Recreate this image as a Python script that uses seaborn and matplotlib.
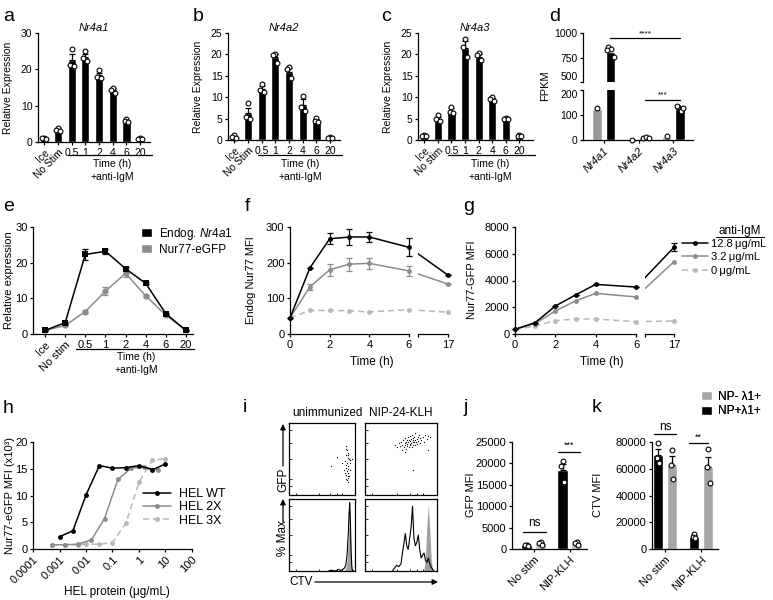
import matplotlib
matplotlib.use("Agg")
import matplotlib.pyplot as plt
import numpy as np
import pandas as pd
import seaborn as sns
from matplotlib.lines import Line2D
from matplotlib.patches import Patch

sns.set_style("ticks")
plt.rcParams["font.family"] = ["Liberation Sans", "DejaVu Sans"]
plt.rcParams["font.size"] = 7
plt.rcParams["text.color"] = "black"
plt.rcParams["axes.edgecolor"] = "black"
plt.rcParams["axes.linewidth"] = 0.9
plt.rcParams["xtick.color"] = "black"
plt.rcParams["ytick.color"] = "black"
plt.rcParams["xtick.major.width"] = 0.9
plt.rcParams["ytick.major.width"] = 0.9
plt.rcParams["xtick.major.size"] = 2.5
plt.rcParams["ytick.major.size"] = 2.5
plt.rcParams["xtick.major.pad"] = 1.5
plt.rcParams["ytick.major.pad"] = 1.5
plt.rcParams["xtick.labelsize"] = 8
plt.rcParams["ytick.labelsize"] = 8
plt.rcParams["mathtext.fontset"] = "custom"
plt.rcParams["mathtext.it"] = "Liberation Sans:italic"
plt.rcParams["mathtext.rm"] = "Liberation Sans"

GRAY = "#8c8c8c"
LIGHT = "#b8b8b8"

# ---------------- data ----------------
# a-c: qPCR time courses
time_labels = ["Ice", "No Stim", "0.5", "1", "2", "4", "6", "20"]
nr4a1_mean = [1.0, 3.3, 22.5, 23.4, 18.4, 14.3, 5.9, 1.0]
nr4a1_sem = [0.1, 0.3, 1.6, 0.9, 0.7, 0.5, 0.2, 0.1]
nr4a1_pts = [[1.1, 1.0, 0.9], [3.8, 3.2, 2.9], [25.6, 21.1, 20.9], [25.0, 23.0, 22.3],
             [19.8, 17.8, 17.6], [15.0, 14.2, 13.6], [6.2, 5.9, 5.6], [1.2, 0.9, 0.9]]
nr4a2_mean = [0.8, 6.3, 12.0, 19.3, 16.0, 8.2, 4.6, 0.6]
nr4a2_sem = [0.2, 1.1, 0.6, 0.7, 0.9, 1.3, 0.3, 0.1]
nr4a2_pts = [[1.1, 0.7, 0.5], [8.6, 5.3, 5.0], [13.1, 11.6, 11.3], [20.2, 19.8, 18.0],
             [17.0, 16.6, 14.5], [10.2, 7.7, 6.8], [5.2, 4.4, 4.3], [0.7, 0.5, 0.5]]
nr4a3_labels = ["Ice", "No stim", "0.5", "1", "2", "4", "6", "20"]
nr4a3_mean = [1.0, 5.0, 6.8, 21.5, 19.5, 9.6, 4.9, 1.0]
nr4a3_sem = [0.1, 0.4, 0.6, 1.6, 0.5, 0.3, 0.1, 0.1]
nr4a3_pts = [[1.1, 1.0, 0.9], [5.8, 5.0, 4.4], [7.8, 6.6, 6.2], [23.5, 21.8, 19.5],
             [20.3, 19.8, 18.7], [10.0, 9.5, 9.2], [5.1, 4.8, 4.8], [1.2, 0.9, 0.9]]

# d: RNA-seq FPKM
genes = ["Nr4a1", "Nr4a2", "Nr4a3"]
conds = ["unstimulated", "2 h anti-IgM"]
fpkm_unstim = [124, 2, 14]
fpkm_stim = [810, 10, 124]
fpkm_unstim_pts = [[127], [2], [18]]
fpkm_stim_pts = [[860, 834, 760, 827], [10, 11, 10], [132, 118, 128, 136]]

# e: endogenous Nr4a1 vs reporter transcript
e_labels = ["Ice", "No stim", "0.5", "1", "2", "4", "6", "20"]
endog_mean = [1.0, 3.2, 22.3, 23.2, 18.3, 14.2, 5.7, 1.0]
endog_sem = [0.1, 0.3, 1.5, 0.7, 0.5, 0.3, 0.2, 0.1]
egfp_mean = [1.0, 2.4, 6.3, 12.0, 17.0, 10.7, 5.3, 1.0]
egfp_sem = [0.1, 0.2, 0.3, 1.2, 0.9, 0.3, 0.3, 0.1]

# f, g: protein time courses
course_hours = [0, 1, 2, 3, 4, 6, 17]
f_high = [45, 185, 267, 272, 272, 243, 165]
f_high_err = [0, 0, 15, 22, 13, 25, 0]
f_mid = [45, 132, 180, 196, 198, 177, 140]
f_mid_err = [0, 8, 16, 18, 16, 13, 0]
f_none = [45, 66, 66, 65, 62, 68, 61]
g_high = [350, 850, 2090, 2920, 3710, 3510, 6480]
g_high_err = [0, 0, 0, 0, 0, 0, 300]
g_mid = [350, 780, 1720, 2470, 3040, 2770, 5410]
g_none = [350, 600, 1000, 1120, 1120, 920, 970]
dose_labels = ["12.8\u2009\u03bcg/mL", "3.2\u2009\u03bcg/mL", "0\u2009\u03bcg/mL"]

# h: HEL dose response
hel_wt_conc = [0.001, 0.0032, 0.01, 0.032, 0.1, 0.32, 1, 3.2, 10]
hel_wt = [2.3, 3.4, 10.1, 15.6, 15.1, 15.2, 15.6, 14.8, 15.9]
hel_2x_conc = [0.0005, 0.0016, 0.005, 0.016, 0.05, 0.16, 0.5, 1.6, 5]
hel_2x = [0.8, 0.8, 0.9, 1.7, 5.7, 13.0, 15.1, 15.3, 14.8]
hel_3x_conc = [0.0005, 0.0016, 0.005, 0.01, 0.032, 0.1, 0.32, 1, 3.2, 10]
hel_3x = [0.8, 0.8, 0.8, 0.9, 0.9, 1.2, 4.8, 12.5, 16.6, 16.9]
hel_labels = ["HEL WT", "HEL 2X", "HEL 3X"]

# i: flow cytometry (fraction of plot range)
unimm_dots = [(0.86, 0.68), (0.88, 0.62), (0.90, 0.58), (0.87, 0.55), (0.89, 0.52),
              (0.91, 0.50), (0.85, 0.47), (0.88, 0.45), (0.92, 0.44), (0.87, 0.41),
              (0.90, 0.40), (0.86, 0.38), (0.89, 0.36), (0.93, 0.35), (0.88, 0.33),
              (0.85, 0.31), (0.90, 0.30), (0.87, 0.28), (0.91, 0.26), (0.89, 0.24),
              (0.86, 0.22), (0.88, 0.21), (0.92, 0.48), (0.90, 0.55), (0.87, 0.64),
              (0.89, 0.27), (0.63, 0.40), (0.73, 0.53), (0.80, 0.45), (0.95, 0.50),
              (0.84, 0.35), (0.90, 0.18)]
nip_dots = [(0.42, 0.70), (0.45, 0.66), (0.47, 0.72), (0.48, 0.68), (0.50, 0.74),
            (0.51, 0.63), (0.52, 0.70), (0.53, 0.76), (0.54, 0.66), (0.55, 0.72),
            (0.55, 0.79), (0.56, 0.69), (0.57, 0.74), (0.57, 0.64), (0.58, 0.77),
            (0.58, 0.71), (0.59, 0.68), (0.60, 0.80), (0.60, 0.73), (0.61, 0.66),
            (0.61, 0.76), (0.62, 0.71), (0.62, 0.82), (0.63, 0.69), (0.63, 0.75),
            (0.64, 0.78), (0.64, 0.72), (0.65, 0.67), (0.65, 0.84), (0.66, 0.74),
            (0.66, 0.79), (0.67, 0.70), (0.67, 0.77), (0.68, 0.73), (0.68, 0.81),
            (0.69, 0.76), (0.70, 0.69), (0.70, 0.86), (0.71, 0.74), (0.72, 0.78),
            (0.72, 0.71), (0.73, 0.80), (0.74, 0.75), (0.75, 0.83), (0.76, 0.72),
            (0.77, 0.79), (0.78, 0.76), (0.80, 0.81), (0.82, 0.74), (0.84, 0.84),
            (0.86, 0.78), (0.88, 0.82), (0.90, 0.80), (0.66, 0.35), (0.87, 0.62),
            (0.55, 0.60)]
unimm_ctv = [0.60, 0.65, 0.70, 0.75, 0.78, 0.81, 0.84, 0.86, 0.88, 0.90, 0.91, 0.92,
             0.93, 0.94, 0.95, 0.96, 0.98]
unimm_hist = [0.0, 0.01, 0.0, 0.02, 0.01, 0.02, 0.04, 0.08, 0.22, 0.55, 0.80, 0.95,
              0.70, 0.30, 0.08, 0.01, 0.0]
unimm_ref = [0.0, 0.0, 0.0, 0.0, 0.0, 0.0, 0.01, 0.04, 0.15, 0.45, 0.70, 0.85,
             0.60, 0.25, 0.05, 0.0, 0.0]
nip_ctv = [0.38, 0.41, 0.44, 0.47, 0.50, 0.52, 0.54, 0.56, 0.58, 0.60, 0.62, 0.64,
           0.66, 0.68, 0.70, 0.72, 0.74, 0.76, 0.78, 0.80, 0.82, 0.84, 0.86, 0.88,
           0.90, 0.92, 0.94, 0.96]
nip_hist = [0.0, 0.04, 0.08, 0.06, 0.10, 0.25, 0.38, 0.52, 0.35, 0.30, 0.45, 0.60,
            0.90, 0.45, 0.35, 0.40, 0.50, 0.30, 0.18, 0.22, 0.25, 0.15, 0.12, 0.18,
            0.10, 0.05, 0.02, 0.0]
nip_ref = [0.0, 0.0, 0.0, 0.0, 0.0, 0.0, 0.0, 0.0, 0.0, 0.0, 0.0, 0.0,
           0.0, 0.0, 0.0, 0.0, 0.0, 0.0, 0.0, 0.0, 0.02, 0.20, 0.65, 0.92,
           0.55, 0.15, 0.02, 0.0]

# j, k: bar charts of NP+ / NP- cells
jk_groups = ["No stim", "NIP-KLH"]
cell_types = ["NP+\u03bb1+", "NP- \u03bb1+"]
gfp_pos = [900, 18500]
gfp_pos_sem = [100, 1400]
gfp_pos_pts = [[1050, 850, 700], [20600, 19300, 15600]]
gfp_neg = [1300, 1300]
gfp_neg_sem = [150, 150]
gfp_neg_pts = [[1600, 1300, 1000], [1600, 1300, 1000]]
ctv_pos = [70500, 9300]
ctv_pos_sem = [4500, 900]
ctv_pos_pts = [[79000, 68000, 64500], [11000, 9000, 8000]]
ctv_neg = [63000, 61500]
ctv_neg_sem = [6500, 7000]
ctv_neg_pts = [[74000, 63000, 52000], [74500, 61000, 49500]]

# ---------------- figure ----------------
W, H = 773, 600
fig = plt.figure(figsize=(W / 100, H / 100), dpi=100)


def add_ax(l, t, r, b):
    return fig.add_axes([l / W, 1 - b / H, (r - l) / W, (b - t) / H])


def dots(ax, x, vals, offs=(0.0, -0.14, 0.14, 0.07)):
    xs = [x + offs[i] for i in range(len(vals))]
    ax.scatter(xs, vals, s=12, facecolor="white", edgecolor="black",
               linewidth=0.8, zorder=4, clip_on=False)


def rotate_labels(ax, n=None):
    labels = ax.get_xticklabels()
    for lbl in (labels if n is None else labels[:n]):
        lbl.set_rotation(45)
        lbl.set_ha("right")
        lbl.set_rotation_mode("anchor")


def qpcr_panel(ax, labels, means, sems, pts, ymax, step, xmax):
    sns.barplot(x=labels, y=means, color="black", width=0.6, saturation=1,
                errorbar=None, ax=ax)
    ax.errorbar(range(len(means)), means, yerr=[[0] * len(sems), sems], fmt="none",
                ecolor="black", elinewidth=0.9, capsize=2, capthick=0.9, zorder=3)
    for i, vals in enumerate(pts):
        dots(ax, i, vals)
    ax.set_xlim(-0.46, xmax)
    ax.set_ylim(0, ymax)
    ax.set_yticks(np.arange(0, ymax + 1, step))
    ax.set_xticks(range(len(labels)))
    ax.set_xticklabels(labels)
    ax.tick_params(labelsize=7.5)
    rotate_labels(ax, 2)
    sns.despine(ax=ax)


ax_a = add_ax(38, 33, 150, 142)
qpcr_panel(ax_a, time_labels, nr4a1_mean, nr4a1_sem, nr4a1_pts, 30, 10, 7.72)
ax_b = add_ax(228, 33, 340, 140)
qpcr_panel(ax_b, time_labels, nr4a2_mean, nr4a2_sem, nr4a2_pts, 25, 5, 7.72)
ax_c = add_ax(418, 33, 533, 140)
qpcr_panel(ax_c, nr4a3_labels, nr4a3_mean, nr4a3_sem, nr4a3_pts, 25, 5, 8.0)

# d: broken y axis
ax_du = add_ax(583, 33, 693, 82)
ax_dl = add_ax(583, 90, 693, 140)
df_d = pd.DataFrame({"gene": genes * 2,
                     "cond": [conds[0]] * 3 + [conds[1]] * 3,
                     "fpkm": fpkm_unstim + fpkm_stim})
for ax in (ax_du, ax_dl):
    sns.barplot(data=df_d, x="gene", y="fpkm", hue="cond", palette=["#999999", "black"],
                width=0.75, gap=0.3, saturation=1, errorbar=None, legend=False, ax=ax)
    for i in range(3):
        dots(ax, i - 0.1875, fpkm_unstim_pts[i])
        dots(ax, i + 0.1875, fpkm_stim_pts[i], offs=(-0.06, 0.03, 0.1, -0.1))
    ax.set(xlabel="", ylabel="", xlim=(-0.59, 2.56))
    ax.tick_params(labelsize=7.5)
    sns.despine(ax=ax)
for coll in ax_du.collections:
    coll.set_clip_on(True)
ax_du.set_ylim(500, 1000)
ax_du.set_yticks([500, 750, 1000])
ax_du.get_yticklabels()[0].set_va("bottom")
ax_du.spines["bottom"].set_visible(False)
ax_du.set_xticks([])
ax_dl.set_ylim(0, 200)
ax_dl.set_yticks([0, 100, 200])
ax_dl.get_yticklabels()[-1].set_va("top")
ax_dl.set_xticks(range(3))
ax_dl.set_xticklabels(genes, fontstyle="italic", fontsize=8)
rotate_labels(ax_dl)
ax_du.plot([0.1875, 2.1875], [949, 949], color="black", lw=0.9)
ax_du.text(1.19, 955, "****", ha="center", va="bottom", fontsize=6)
ax_dl.plot([1.1875, 2.1875], [160, 160], color="black", lw=0.9)
ax_dl.text(1.69, 166, "***", ha="center", va="bottom", fontsize=6)

# e
ax_e = add_ax(33, 227, 193, 334)
xs_e = np.arange(len(e_labels))
sns.lineplot(x=xs_e, y=egfp_mean, color=GRAY, marker="o", markersize=4.5, lw=1.1,
             markeredgewidth=0, ax=ax_e, clip_on=False, zorder=3)
ax_e.errorbar(xs_e, egfp_mean, yerr=egfp_sem, fmt="none", ecolor=GRAY, elinewidth=0.9,
              capsize=2.5, capthick=0.9, clip_on=False, zorder=3)
sns.lineplot(x=xs_e, y=endog_mean, color="black", marker="s", markersize=4.5, lw=1.1,
             markeredgewidth=0, ax=ax_e, clip_on=False, zorder=4)
ax_e.errorbar(xs_e, endog_mean, yerr=endog_sem, fmt="none", ecolor="black",
              elinewidth=0.9, capsize=2.5, capthick=0.9, clip_on=False, zorder=4)
ax_e.set_xlim(-0.6, 7.35)
ax_e.set_ylim(0, 30)
ax_e.set_yticks([0, 10, 20, 30])
ax_e.set_xticks(xs_e)
ax_e.set_xticklabels(e_labels)
rotate_labels(ax_e, 2)
sns.despine(ax=ax_e)


def course_panel(ax_l, ax_r, series, ymax, ystep, x_gap_left):
    for vals, errs, color, ls in series:
        sns.lineplot(x=course_hours[:6], y=vals[:6], color=color, lw=1.1,
                     marker="o", markersize=3.5, markeredgewidth=0, ax=ax_l,
                     clip_on=False)
        if ls == "--":
            ax_l.lines[-1].set_dashes((4, 2.5))
        ax_r.plot(course_hours[5:], vals[5:], color=color, lw=1.1,
                  ls=(0, (4, 2.5)) if ls == "--" else "-")
        ax_r.plot([course_hours[6]], [vals[6]], "o", color=color, markersize=3.5,
                  markeredgewidth=0, clip_on=False)
        if errs is not None:
            ax_l.errorbar(course_hours[:6], vals[:6], yerr=errs[:6], fmt="none",
                          ecolor=color, elinewidth=0.9, capsize=2.5, capthick=0.9,
                          clip_on=False)
            ax_r.errorbar([course_hours[6]], [vals[6]], yerr=[errs[6]], fmt="none",
                          ecolor=color, elinewidth=0.9, capsize=2.5, capthick=0.9,
                          clip_on=False)
    ax_l.set_xlim(0, 6)
    ax_l.set_xticks([0, 2, 4, 6])
    ax_l.set_ylim(0, ymax)
    ax_l.set_yticks(np.arange(0, ymax + 1, ystep))
    sns.despine(ax=ax_l)
    ax_r.set_xlim(x_gap_left, 17)
    ax_r.set_ylim(0, ymax)
    ax_r.set_xticks([x_gap_left, 17])
    ax_r.set_xticklabels(["", "17"])
    ax_r.set_yticks([])
    sns.despine(ax=ax_r, left=True)


ax_fl = add_ax(290, 227, 409, 334)
ax_fr = add_ax(418, 227, 448, 334)
course_panel(ax_fl, ax_fr, [(f_none, None, LIGHT, "--"), (f_mid, f_mid_err, GRAY, "-"),
                            (f_high, f_high_err, "black", "-")], 300, 100, 8.54)
ax_gl = add_ax(515, 227, 636, 334)
ax_gr = add_ax(645, 227, 674, 334)
course_panel(ax_gl, ax_gr, [(g_none, None, LIGHT, "--"), (g_mid, None, GRAY, "-"),
                            (g_high, g_high_err, "black", "-")], 8000, 2000, 8.6)

# h
ax_h = add_ax(33, 442, 192, 549)
for conc, vals, color, ls in [(hel_3x_conc, hel_3x, LIGHT, "--"),
                              (hel_2x_conc, hel_2x, GRAY, "-"),
                              (hel_wt_conc, hel_wt, "black", "-")]:
    sns.lineplot(x=conc, y=vals, color=color, lw=1.1, marker="o", markersize=3.5,
                 markeredgewidth=0, ax=ax_h, clip_on=False)
    if ls == "--":
        ax_h.lines[-1].set_dashes((4, 2.5))
ax_h.set_xscale("log")
ax_h.set_xlim(1e-4, 100)
ax_h.set_ylim(0, 20)
ax_h.set_yticks([0, 5, 10, 15, 20])
ax_h.set_xticks([1e-4, 1e-3, 1e-2, 1e-1, 1, 10, 100])
ax_h.set_xticklabels(["0.0001", "0.001", "0.01", "0.1", "1", "10", "100"])
ax_h.tick_params(axis="x", which="minor", length=1.5, width=0.7)
rotate_labels(ax_h)
sns.despine(ax=ax_h)

# i: flow panels
ax_i1 = add_ax(289, 423, 355, 495)
ax_i2 = add_ax(365, 423, 437, 495)
ax_i3 = add_ax(289, 499, 355, 571)
ax_i4 = add_ax(365, 499, 437, 571)
for ax, pts in [(ax_i1, unimm_dots), (ax_i2, nip_dots)]:
    arr = np.array(pts)
    ax.scatter(arr[:, 0], arr[:, 1], s=0.8, color="black", linewidths=0)
for ax, ctv, hist, ref in [(ax_i3, unimm_ctv, unimm_hist, unimm_ref),
                           (ax_i4, nip_ctv, nip_hist, nip_ref)]:
    ax.fill_between(ctv, ref, color="#a0a0a0", lw=0)
    sns.lineplot(x=ctv, y=hist, color="black", lw=0.8, ax=ax)
for ax in (ax_i1, ax_i2, ax_i3, ax_i4):
    ax.set_xlim(0, 1)
    ax.set_ylim(0, 1)
    ax.set_xticks([0.1, 0.45, 0.62, 0.72, 0.8])
    ax.set_yticks([0.12, 0.22, 0.5, 0.72, 0.9])
    ax.tick_params(direction="in", length=1.8, width=0.6, labelleft=False,
                   labelbottom=False)
    for sp in ax.spines.values():
        sp.set_visible(True)
        sp.set_linewidth(0.9)

# j, k
ax_j = add_ax(512, 442, 587, 549)
ax_k = add_ax(652, 442, 718, 549)
for ax, pos, pos_sem, pos_pts, neg, neg_sem, neg_pts, ymax, gray, xlim in [
        (ax_j, gfp_pos, gfp_pos_sem, gfp_pos_pts, gfp_neg, gfp_neg_sem, gfp_neg_pts,
         25000, "#c0c0c0", (-0.6, 1.48)),
        (ax_k, ctv_pos, ctv_pos_sem, ctv_pos_pts, ctv_neg, ctv_neg_sem, ctv_neg_pts,
         80000, "#a6a6a6", (-0.36, 1.47))]:
    df = pd.DataFrame({"grp": jk_groups * 2,
                       "cell": [cell_types[0]] * 2 + [cell_types[1]] * 2,
                       "val": pos + neg})
    sns.barplot(data=df, x="grp", y="val", hue="cell", palette=["black", gray],
                width=0.78, gap=0.25, saturation=1, errorbar=None, legend=False, ax=ax)
    for i in range(2):
        for dx, m, s, p in [(-0.195, pos, pos_sem, pos_pts), (0.195, neg, neg_sem, neg_pts)]:
            ax.errorbar([i + dx], [m[i]], yerr=[[0], [s[i]]], fmt="none", ecolor="black",
                        elinewidth=0.9, capsize=2, capthick=0.9, zorder=3)
            dots(ax, i + dx, p[i], offs=(0.0, -0.04, 0.04))
    ax.set(xlabel="", ylabel="", xlim=xlim, ylim=(0, ymax))
    ax.set_yticks(np.linspace(0, ymax, 5 if ymax == 80000 else 6))
    ax.set_xticks([0, 1])
    ax.set_xticklabels(jk_groups)
    rotate_labels(ax)
    sns.despine(ax=ax)
ax_j.plot([-0.3, 0.35], [4000, 4000], color="black", lw=0.9)
ax_j.text(0.02, 4600, "ns", ha="center", va="bottom", fontsize=8.5)
ax_j.plot([0.68, 1.29], [22700, 22700], color="black", lw=0.9, clip_on=False)
ax_j.text(0.98, 23200, "***", ha="center", va="bottom", fontsize=6.5, clip_on=False)
ax_k.plot([-0.3, 0.3], [86000, 86000], color="black", lw=0.9, clip_on=False)
ax_k.text(0.0, 87000, "ns", ha="center", va="bottom", fontsize=8.5)
ax_k.plot([0.67, 1.19], [79000, 79000], color="black", lw=0.9, clip_on=False)
ax_k.text(0.93, 80000, "**", ha="center", va="bottom", fontsize=6.5)

# ---------------- overlay: labels, legends, arrows ----------------
ov = fig.add_axes([0, 0, 1, 1], zorder=10)
ov.set_xlim(0, W)
ov.set_ylim(H, 0)
ov.axis("off")

for x, y, s in [(3, 21, "a"), (193, 21, "b"), (381, 21, "c"), (549, 21, "d"),
                (3, 211, "e"), (245, 211, "f"), (463, 211, "g"),
                (3, 413, "h"), (243, 412, "i"), (464, 412, "j"), (592, 412, "k")]:
    ov.text(x, y, s, fontsize=14, va="baseline", ha="left")

for x, s in [(94, "Nr4a1"), (284, "Nr4a2"), (475, "Nr4a3")]:
    ov.text(x, 28, s, fontstyle="italic", ha="center", va="center", fontsize=8)

ylabels = [(8, 88, "Relative Expression", 7.5), (198, 87, "Relative Expression", 7.5),
           (388, 87, "Relative Expression", 7.5), (545, 86, "FPKM", 8),
           (9, 280, "Relative expression", 8), (251, 280, "Endog Nur77 MFI", 8),
           (472, 280, "Nur77-GFP MFI", 8), (10, 495, "Nur77-eGFP MFI (x10\u00b3)", 8),
           (471, 495, "GFP MFI", 8), (598, 495, "CTV MFI", 8)]
for x, y, s, fs in ylabels:
    ov.text(x, y, s, rotation=90, ha="center", va="center", fontsize=fs)

# time brackets under a, b, c, e
for x0, x1, y_line, xc, y1, y2 in [(68, 152, 155, 112, 164, 177),
                                   (258, 342, 155, 300, 164, 177),
                                   (448, 535, 155, 490, 164, 177),
                                   (76, 194, 349, 136, 357, 370)]:
    ov.plot([x0, x1], [y_line, y_line], color="black", lw=0.9)
    ov.text(xc, y1, "Time (h)", ha="center", va="center", fontsize=7.5)
    ov.text(xc, y2, "+anti-IgM", ha="center", va="center", fontsize=7.5)

ov.text(372, 362, "Time (h)", ha="center", va="center", fontsize=8.5)
ov.text(602, 362, "Time (h)", ha="center", va="center", fontsize=8.5)
ov.text(117, 592, "HEL protein (\u03bcg/mL)", ha="center", va="center", fontsize=8.5)

# d legend
ov.legend(handles=[Patch(facecolor="#999999"), Patch(facecolor="black")], labels=conds,
          loc="upper left", bbox_to_anchor=(641 / W, 1.0), frameon=False, fontsize=8.5,
          handlelength=0.9, handleheight=0.8, handletextpad=0.5, labelspacing=0.25,
          borderpad=0.1, borderaxespad=0)
# e legend
leg_e = ov.legend(handles=[Patch(facecolor="black"), Patch(facecolor=GRAY)],
                  labels=["Endog. $\\mathit{Nr4a1}$", "Nur77-eGFP"], loc="upper left",
                  bbox_to_anchor=(141 / W, 1 - 226 / H), frameon=False, fontsize=8.5,
                  handlelength=0.9, handleheight=0.8, handletextpad=0.6,
                  labelspacing=0.15, borderpad=0, borderaxespad=0)
ov.add_artist(leg_e)
# g legend
g_handles = [Line2D([], [], color="black", lw=1.1, marker="o", markersize=3.5, markeredgewidth=0),
             Line2D([], [], color=GRAY, lw=1.1, marker="o", markersize=3.5, markeredgewidth=0),
             Line2D([], [], color=LIGHT, lw=1.1, ls=(0, (4, 2.5)), marker="o",
                    markersize=3.5, markeredgewidth=0)]
leg_g = ov.legend(handles=g_handles, labels=dose_labels, loc="upper left",
                  bbox_to_anchor=(682 / W, 1 - 239 / H), frameon=False, fontsize=8,
                  handlelength=2.3, handletextpad=0.35, labelspacing=0.3,
                  borderpad=0, borderaxespad=0)
ov.add_artist(leg_g)
ov.text(740, 231, "anti-IgM", ha="center", va="center", fontsize=8.5)
ov.plot([716, 764], [237, 237], color="black", lw=0.7)
# h legend
h_handles = [Line2D([], [], color="black", lw=1.1, marker="o", markersize=3.5, markeredgewidth=0),
             Line2D([], [], color=GRAY, lw=1.1, marker="o", markersize=3.5, markeredgewidth=0),
             Line2D([], [], color=LIGHT, lw=1.1, ls=(0, (4, 2.5)), marker="o",
                    markersize=3.5, markeredgewidth=0)]
leg_h = ov.legend(handles=h_handles, labels=hel_labels, loc="upper left",
                  bbox_to_anchor=(143 / W, 1 - 488 / H), frameon=False, fontsize=9,
                  handlelength=2.2, handletextpad=0.7, labelspacing=0.1,
                  borderpad=0, borderaxespad=0)
ov.add_artist(leg_h)
# k legend
leg_k = ov.legend(handles=[Patch(facecolor="#a6a6a6"), Patch(facecolor="black")],
                  labels=[cell_types[1], cell_types[0]], loc="upper left",
                  bbox_to_anchor=(701 / W, 1 - 391 / H), frameon=False, fontsize=8.5,
                  handlelength=0.9, handleheight=0.8, handletextpad=0.5,
                  labelspacing=0.2, borderpad=0, borderaxespad=0)
ov.add_artist(leg_k)

# i annotations
ov.text(327, 413, "unimmunized", ha="center", va="center", fontsize=8.5)
ov.text(401, 413, "NIP-24-KLH", ha="center", va="center", fontsize=8.5)
arrow = dict(arrowstyle="-|>", lw=0.9, color="black", mutation_scale=8, shrinkA=0, shrinkB=0)
ov.annotate("", xy=(283, 424), xytext=(283, 466), arrowprops=arrow)
ov.text(283, 480, "GFP", rotation=90, ha="center", va="center", fontsize=8.5)
ov.annotate("", xy=(283, 499), xytext=(283, 522), arrowprops=arrow)
ov.text(283, 538, "% Max", rotation=90, ha="center", va="center", fontsize=8.5)
ov.annotate("", xy=(438, 582), xytext=(315, 582), arrowprops=arrow)
ov.text(301, 582, "CTV", ha="center", va="center", fontsize=8.5)

fig.savefig("out.png", dpi=100)
